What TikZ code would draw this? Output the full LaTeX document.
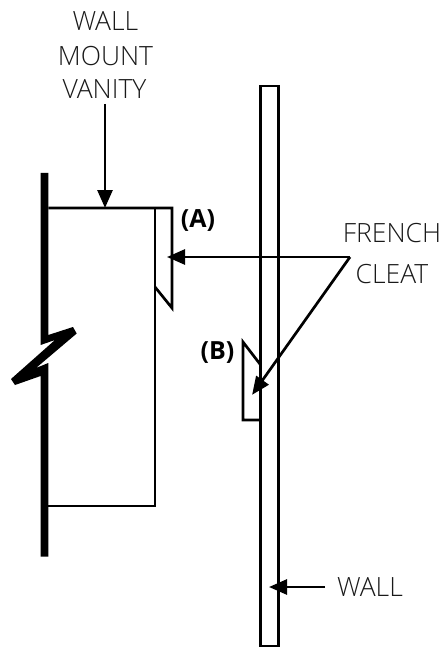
\documentclass[tikz,border=0pt]{standalone}
\usepackage{fontspec}
\setmainfont{Open Sans}
\newfontfamily\lightfont{Open Sans Light}
\usetikzlibrary{arrows.meta}
\tikzset{
  outline/.style={draw=black,line width=2.7pt,line join=miter},
  pointer/.style={draw=black,line width=2.7pt,-{Triangle[length=18pt,width=15pt]},shorten >=-1pt},
  caption/.style={text=black!90,font=\lightfont\fontsize{26.5}{26.5}\selectfont,inner sep=0pt,align=center},
  letter/.style={text=black,font=\fontsize{25}{25}\selectfont\bfseries,inner sep=0pt}
}
\begin{document}
\begin{tikzpicture}[x=1pt,y=-1pt]
\useasboundingbox (0,0) rectangle (442,647);
\fill[black] (40.6,173) -- (48.3,173) -- (48.3,335) -- (73,327) -- (76.7,333.5) -- (36,368) -- (48.3,363) -- (48.3,556.5) -- (40.6,556.5) -- (40.6,376) -- (15,385) -- (11,379) -- (55,340) -- (40.6,345) -- cycle;
\draw[outline] (48.3,208) -- (172,208) -- (172,308) -- (155,287);
\draw[outline] (155,208) -- (155,506) -- (48.3,506);
\draw[outline] (260.7,86) rectangle (278.7,646);
\draw[outline] (260.7,365) -- (243,342) -- (243,420) -- (260.7,420);
\node[caption] (vwall) at (105.5,21) {WALL};
\node[caption] (vmount) at (105.5,56) {MOUNT};
\node[caption] (vvanity) at (104.5,89) {VANITY};
\node[caption] (french) at (392,233) {FRENCH};
\node[caption] (cleat) at (392,274) {CLEAT};
\node[caption,anchor=west] (wall) at (337,587) {WALL};
\node[letter] (a) at (198,221) {(A)};
\node[letter] (b) at (217.5,353) {(B)};
\coordinate (vtop) at (105,104);
\coordinate (vtip) at (105,207);
\coordinate (fork) at (350,257);
\coordinate (atip) at (168,257);
\coordinate (btip) at (252.7,394);
\coordinate (wstart) at (325,587);
\coordinate (wtip) at (270,587);
\draw[pointer] (vtop) -- (vtip);
\draw[pointer] (fork) -- (atip);
\draw[pointer] (fork) -- (btip);
\draw[pointer] (wstart) -- (wtip);
\end{tikzpicture}
\end{document}
